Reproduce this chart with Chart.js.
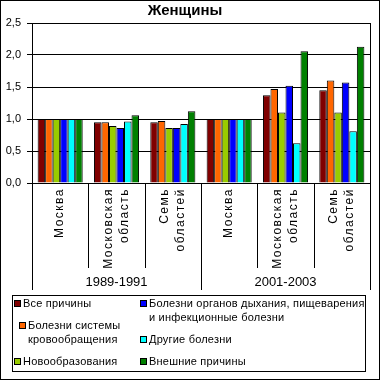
<!DOCTYPE html>
<html>
<head>
<meta charset="utf-8">
<script src="https://cdn.jsdelivr.net/npm/chart.js@4/dist/chart.umd.min.js"></script>
<style>
  body { margin: 0; background: #fff; }
  .wrap { position: relative; width: 380px; height: 380px; }
  .legend {
    position: absolute; left: 12px; top: 295px; width: 352px; height: 75px;
    border: 1px solid #000; box-sizing: content-box;
    font-family: "Liberation Sans", Arial, sans-serif; font-size: 11px;
    letter-spacing: 0.2px; line-height: 14px; color: #000;
  }
  .col { position: absolute; top: 0; display: flex; flex-direction: column; gap: 8px; }
  .col1 { left: 1px; width: 118px; }
  .col2 { left: 127px; width: 226px; }
  .item { display: flex; align-items: flex-start; }
  .col1 .item:nth-child(2) { padding-left: 5px; }
  .sw { width: 5px; height: 5px; border: 1px solid #000; margin: 4px 2px 0 0; flex: none; }
</style>
</head>
<body>
<div class="wrap">
  <canvas id="chart"></canvas>
  <div class="legend" id="legend"><div class="col col1"></div><div class="col col2"></div></div>
</div>
<script>
// data
const regions = ['Москва', ['Московская', 'область'], ['Семь', 'областей']];
const periods = ['1989-1991', '2001-2003'];
const categories = [...regions, ...regions];
const yTicks = [0, 0.5, 1.0, 1.5, 2.0, 2.5];

const seriesNames = [
  'Все причины',
  'Болезни системы кровообращения',
  'Новообразования',
  'Болезни органов дыхания, пищеварения и инфекционные болезни',
  'Другие болезни',
  'Внешние причины'
];
const allCauses   = [1.00, 0.95, 0.95, 1.00, 1.37, 1.45];
const circulatory = [1.00, 0.95, 0.97, 1.00, 1.47, 1.60];
const neoplasms   = [1.00, 0.89, 0.86, 1.00, 1.10, 1.10];
const respiratory = [1.00, 0.86, 0.86, 1.00, 1.52, 1.57];
const otherDis    = [1.00, 0.96, 0.92, 1.00, 0.62, 0.81];
const external    = [1.00, 1.06, 1.12, 1.00, 2.06, 2.13];
const seriesValues = [allCauses, circulatory, neoplasms, respiratory, otherDis, external];
const seriesColors = ['#800000', '#FF6600', '#99CC00', '#0000FF', '#00FFFF', '#008000'];

const FONT = '"Liberation Sans", Arial, sans-serif';

// frame, plot box, category labels and separators
const framePlugin = {
  id: 'frame',
  afterDraw(chart) {
    const ctx = chart.ctx;
    const a = chart.chartArea;
    const x = chart.scales.x, x2 = chart.scales.x2;
    ctx.save();
    ctx.strokeStyle = '#000';
    ctx.lineWidth = 1;
    ctx.strokeRect(Math.round(a.left) + 0.5, Math.round(a.top) + 0.5,
      Math.round(a.right - a.left), Math.round(a.bottom - a.top));
    ctx.strokeRect(0.5, 0.5, chart.width - 1, chart.height - 1);

    // separators between categories
    const n = categories.length;
    const step = (x.getPixelForValue(1) - x.getPixelForValue(0));
    ctx.beginPath();
    for (let i = 0; i <= n; i++) {
      const px = Math.round(x.getPixelForValue(i) - step / 2) + 0.5;
      const outer = i % regions.length === 0;
      ctx.moveTo(px, a.bottom);
      ctx.lineTo(px, outer ? x2.bottom : x.bottom);
    }
    ctx.stroke();

    // rotated category labels
    ctx.fillStyle = '#000';
    ctx.font = '12px ' + FONT;
    ctx.letterSpacing = '1.5px';
    ctx.textAlign = 'right';
    ctx.textBaseline = 'middle';
    categories.forEach((lab, i) => {
      const lines = Array.isArray(lab) ? lab : [lab];
      const cx = x.getPixelForValue(i);
      lines.forEach((ln, j) => {
        const off = (j - (lines.length - 1) / 2) * 16;
        ctx.save();
        ctx.translate(cx + off, a.bottom + 5);
        ctx.rotate(-Math.PI / 2);
        ctx.fillText(ln, 0, 0);
        ctx.restore();
      });
    });
    ctx.restore();
  }
};

new Chart(document.getElementById('chart'), {
  type: 'bar',
  data: {
    labels: categories.map((c, i) => i),
    datasets: seriesNames.map((name, i) => ({
      label: name,
      data: seriesValues[i],
      backgroundColor: seriesColors[i],
      borderColor: '#000',
      borderWidth: 1,
      categoryPercentage: 0.8,
      barPercentage: 1.0
    }))
  },
  options: {
    responsive: true,
    maintainAspectRatio: false,
    animation: false,
    layout: { padding: { left: 0, right: 10, top: 0, bottom: 90 } },
    plugins: {
      legend: { display: false },
      tooltip: { enabled: false },
      title: {
        display: true,
        text: 'Женщины',
        color: '#000',
        font: { family: FONT, size: 15, weight: 'bold', lineHeight: 1 },
        padding: { top: 3, bottom: 5 }
      }
    },
    scales: {
      x: {
        type: 'category',
        offset: true,
        grid: { display: false },
        border: { display: false },
        ticks: { display: false },
        afterFit(scale) { scale.height = 85; }
      },
      x2: {
        type: 'category',
        labels: periods,
        position: 'bottom',
        offset: true,
        weight: 1,
        grid: { display: false },
        border: { display: false },
        ticks: { color: '#000', font: { family: FONT, size: 13 }, padding: -1, maxRotation: 0 },
        afterFit(scale) { scale.height = 22; }
      },
      y: {
        min: yTicks[0],
        max: yTicks[yTicks.length - 1],
        afterBuildTicks(scale) { scale.ticks = yTicks.map(v => ({ value: v })); },
        grid: { color: '#000', lineWidth: 1, tickLength: 5, drawTicks: true },
        border: { color: '#000' },
        ticks: {
          color: '#000',
          font: { family: FONT, size: 11 },
          padding: 6,
          callback: v => v.toFixed(1).replace('.', ',')
        },
        afterFit(scale) { scale.width = 32; }
      }
    }
  },
  plugins: [framePlugin]
});

// legend built from the series arrays
const cols = document.querySelectorAll('#legend .col');
seriesNames.forEach((name, i) => {
  const item = document.createElement('div');
  item.className = 'item';
  const sw = document.createElement('span');
  sw.className = 'sw';
  sw.style.background = seriesColors[i];
  const txt = document.createElement('span');
  txt.textContent = name;
  item.appendChild(sw);
  item.appendChild(txt);
  cols[i < 3 ? 0 : 1].appendChild(item);
});
</script>
</body>
</html>
